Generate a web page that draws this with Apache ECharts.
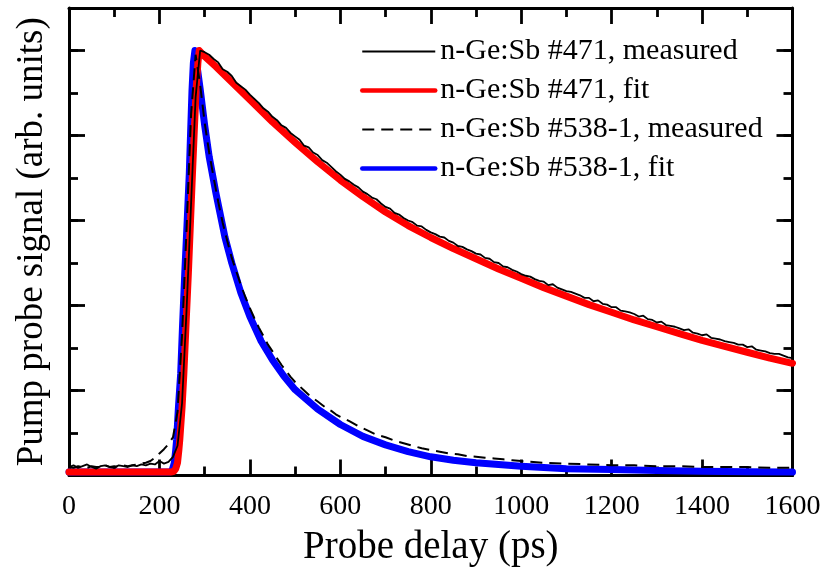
<!DOCTYPE html>
<html>
<head>
<meta charset="utf-8">
<script src="https://cdn.jsdelivr.net/npm/echarts@6/dist/echarts.min.js"></script>
<style>
html,body{margin:0;padding:0;background:#fff;}
#chart{width:827px;height:580px;}
</style>
</head>
<body>
<div id="chart"></div>
<script>
// ---- data ----
const xTickLabels = ['0','200','400','600','800','1000','1200','1400','1600'];

const seriesNames = [
  'n-Ge:Sb #471, measured',
  'n-Ge:Sb #471, fit',
  'n-Ge:Sb #538-1, measured',
  'n-Ge:Sb #538-1, fit'
];

const measured471Delay = [
  0,10,20,30,40,50,60,70,80,90,
  100,110,120,130,140,150,160,170,180,190,
  200,210,220,230,240,250,260,270,280,290,
  300,310,320,330,340,350,360,370,380,390,
  400,410,420,430,440,450,460,470,480,490,
  500,510,520,530,540,550,560,570,580,590,
  600,610,620,630,640,650,660,670,680,690,
  700,710,720,730,740,750,760,770,780,790,
  800,810,820,830,840,850,860,870,880,890,
  900,910,920,930,940,950,960,970,980,990,
  1000,1010,1020,1030,1040,1050,1060,1070,1080,1090,
  1100,1110,1120,1130,1140,1150,1160,1170,1180,1190,
  1200,1210,1220,1230,1240,1250,1260,1270,1280,1290,
  1300,1310,1320,1330,1340,1350,1360,1370,1380,1390,
  1400,1410,1420,1430,1440,1450,1460,1470,1480,1490,
  1500,1510,1520,1530,1540,1550,1560,1570,1580,1590,
  1600
];
const measured471Signal = [
  0.10,0.12,0.09,0.11,0.13,0.10,0.08,0.11,0.12,0.10,
  0.09,0.12,0.11,0.10,0.12,0.11,0.13,0.12,0.14,0.13,
  0.17,0.14,0.16,0.22,0.35,0.85,1.95,3.20,4.45,5.00,
  4.98,4.95,4.90,4.86,4.78,4.75,4.70,4.62,4.58,4.54,
  4.48,4.43,4.38,4.32,4.28,4.22,4.18,4.12,4.09,4.03,
  3.99,3.95,3.88,3.86,3.80,3.77,3.71,3.68,3.63,3.58,
  3.54,3.49,3.46,3.42,3.39,3.34,3.31,3.27,3.25,3.20,
  3.16,3.14,3.09,3.07,3.03,3.00,2.98,2.94,2.93,2.89,
  2.86,2.84,2.81,2.80,2.76,2.74,2.70,2.69,2.66,2.64,
  2.61,2.60,2.56,2.55,2.51,2.50,2.46,2.45,2.42,2.40,
  2.37,2.35,2.34,2.31,2.29,2.28,2.24,2.25,2.21,2.19,
  2.17,2.16,2.14,2.12,2.09,2.09,2.05,2.06,2.02,2.01,
  1.98,1.98,1.94,1.93,1.92,1.90,1.87,1.88,1.84,1.83,
  1.80,1.81,1.77,1.76,1.75,1.73,1.71,1.72,1.68,1.67,
  1.65,1.66,1.62,1.61,1.60,1.58,1.57,1.56,1.54,1.54,
  1.51,1.52,1.48,1.47,1.46,1.44,1.43,1.43,1.41,1.39,
  1.38
];

const fit471Delay = [0,100,200,225,232,236,240,243,245,250,254,259,264,268,273,277,281,285,288,
  300,325,350,375,400,450,500,550,600,650,700,750,800,850,900,950,1000,
  1050,1100,1150,1200,1250,1300,1350,1400,1450,1500,1550,1600];
const fit471Signal = [0.04,0.04,0.04,0.04,0.05,0.08,0.15,0.30,0.42,0.80,1.20,1.80,2.38,2.90,3.55,4.05,4.53,4.85,5.00,
  4.93,4.81,4.68,4.55,4.42,4.16,3.92,3.69,3.475,3.28,3.10,2.94,2.80,2.67,2.55,2.43,2.32,
  2.21,2.11,2.01,1.92,1.83,1.75,1.67,1.59,1.52,1.45,1.38,1.32];

const measured538Delay = [
  0,10,20,30,40,50,60,70,80,90,
  100,110,120,130,140,150,160,170,180,190,
  200,210,220,230,240,250,260,270,280,290,
  300,310,320,330,340,350,360,370,380,390,
  400,410,420,430,440,450,460,470,480,490,
  500,510,520,530,540,550,560,570,580,590,
  600,620,640,660,680,700,720,740,760,780,
  800,820,840,860,880,900,920,940,960,980,1000,
  1050,1100,1150,1200,1250,1300,1350,1400,1450,1500,1550,1600
];
const measured538Signal = [
  0.10,0.09,0.11,0.10,0.09,0.11,0.10,0.10,0.12,0.10,
  0.11,0.10,0.12,0.11,0.12,0.13,0.14,0.15,0.17,0.21,
  0.26,0.31,0.37,0.45,0.75,1.65,2.90,4.25,4.95,4.60,
  4.15,3.80,3.50,3.22,2.97,2.76,2.56,2.40,2.24,2.10,
  1.97,1.85,1.74,1.64,1.54,1.46,1.38,1.30,1.23,1.16,
  1.10,1.05,1.00,0.95,0.91,0.87,0.83,0.79,0.76,0.72,
  0.69,0.64,0.58,0.53,0.48,0.45,0.41,0.38,0.35,0.32,
  0.30,0.28,0.26,0.25,0.23,0.22,0.21,0.20,0.19,0.18,0.17,
  0.15,0.14,0.13,0.12,0.12,0.11,0.11,0.10,0.10,0.10,0.09,0.09
];

const fit538Delay = [0,100,200,222,228,233,236,238,242,247,251,256,261,266,269,272,275,278.5,
  290,300,310,325,345,360,380,400,425,450,475,500,550,600,650,700,750,800,850,900,950,1000,
  1100,1200,1300,1400,1500,1600];
const fit538Signal = [0.04,0.04,0.04,0.04,0.06,0.15,0.30,0.42,0.80,1.20,1.75,2.38,2.95,3.55,4.05,4.53,4.85,5.00,
  4.55,4.12,3.75,3.32,2.80,2.50,2.15,1.87,1.58,1.36,1.17,1.01,0.78,0.60,0.46,0.36,0.28,0.22,0.18,0.15,0.13,0.11,
  0.08,0.07,0.06,0.05,0.045,0.04];

function zip(xs, ys){ return xs.map((x,i)=>[x, ys[i]]); }

const FONT = '"Liberation Serif","Times New Roman",serif';
const axisLineStyle = {color:'#000', width:3};

function xAxisDef(pos, showLabel){
  return {
    type:'value', position:pos, min:0, max:1600, interval:200,
    axisLine:{show:true, onZero:false, lineStyle:axisLineStyle},
    axisTick:{show:true, inside:true, length:16, lineStyle:{color:'#000', width:2.8}},
    minorTick:{show:true, splitNumber:2, length:9, lineStyle:{color:'#000', width:2.8}},
    splitLine:{show:false}, minorSplitLine:{show:false},
    axisLabel:{show:showLabel, fontFamily:FONT, fontSize:28, color:'#000', margin:17,
      formatter:(v)=>xTickLabels[Math.round(v/200)]},
    name: showLabel ? 'Probe delay (ps)' : '',
    nameLocation:'middle', nameGap:53,
    nameTextStyle:{fontFamily:FONT, fontSize:39, color:'#000'}
  };
}
function yAxisDef(pos, interval, tickLen, showLine, name){
  return {
    type:'value', position:pos, min:0, max:5.5, interval:interval,
    axisLine:{show:showLine, onZero:false, lineStyle:axisLineStyle},
    axisTick:{show:true, inside:true, length:tickLen, lineStyle:{color:'#000', width:2.8}},
    splitLine:{show:false},
    axisLabel:{show:false},
    name: name || '',
    nameLocation:'middle', nameGap:18,
    nameTextStyle:{fontFamily:FONT, fontSize:37, color:'#000'}
  };
}

const hiddenSymbol = {opacity:0};
const chart = echarts.init(document.getElementById('chart'), null, {renderer:'canvas'});
chart.setOption({
  animation:false,
  backgroundColor:'#fff',
  grid:{left:69, right:34.5, top:8, bottom:104.5, containLabel:false},
  xAxis:[ xAxisDef('bottom', true), xAxisDef('top', false) ],
  yAxis:[
    yAxisDef('left', 1, 16, true, 'Pump probe signal (arb. units)'),
    yAxisDef('right', 1, 16, true),
    yAxisDef('left', 0.5, 9, false),
    yAxisDef('right', 0.5, 9, false)
  ],
  legend:{
    orient:'vertical', left:355, top:31.5,
    itemWidth:73, itemHeight:14, itemGap:9,
    textStyle:{fontFamily:FONT, fontSize:30, color:'#000'},
    data:[
      {name:seriesNames[0], lineStyle:{width:2}, itemStyle:hiddenSymbol},
      {name:seriesNames[1], lineStyle:{width:4.5}, itemStyle:hiddenSymbol},
      {name:seriesNames[2], lineStyle:{width:2}, itemStyle:hiddenSymbol},
      {name:seriesNames[3], lineStyle:{width:4.5}, itemStyle:hiddenSymbol}
    ],
    selectedMode:false
  },
  series:[
    {name:seriesNames[3], type:'line', data:zip(fit538Delay, fit538Signal), symbol:'none', showSymbol:false,
      lineStyle:{color:'#0000ff', width:7, cap:'round', join:'round'}, itemStyle:{color:'#0000ff'}},
    {name:seriesNames[1], type:'line', data:zip(fit471Delay, fit471Signal), symbol:'none', showSymbol:false,
      lineStyle:{color:'#ff0000', width:7, cap:'round', join:'round'}, itemStyle:{color:'#ff0000'}},
    {name:seriesNames[2], type:'line', data:zip(measured538Delay, measured538Signal), symbol:'none', showSymbol:false,
      lineStyle:{color:'#000', width:2, type:[12,7]}, itemStyle:{color:'#000'}},
    {name:seriesNames[0], type:'line', data:zip(measured471Delay, measured471Signal), symbol:'none', showSymbol:false,
      lineStyle:{color:'#000', width:1.8}, itemStyle:{color:'#000'}}
  ]
});
</script>
</body>
</html>
